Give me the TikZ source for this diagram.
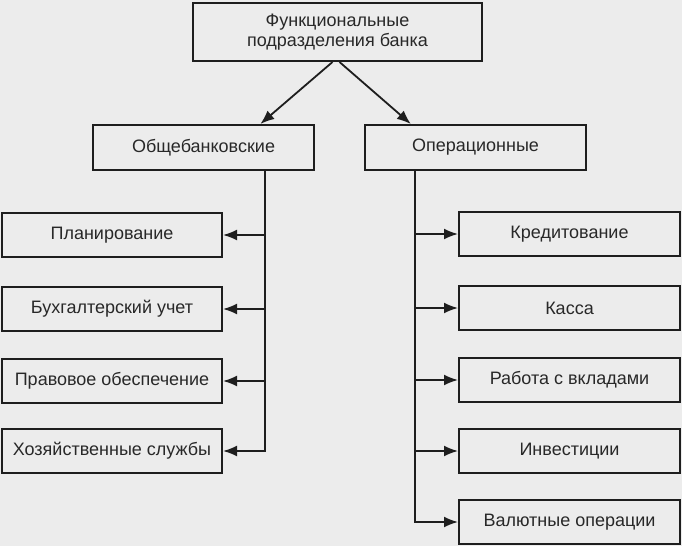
\documentclass[tikz,border=0pt]{standalone}
\usepackage{fontspec}
\setmainfont{Liberation Sans}
\usetikzlibrary{arrows.meta,calc}
\definecolor{bg}{RGB}{236,236,236}
\definecolor{ink}{RGB}{30,30,30}
\definecolor{txt}{RGB}{40,40,40}
\begin{document}
\begin{tikzpicture}[x=1pt,y=-1pt,
  box/.style={draw=ink,line width=2pt,fill=bg,inner sep=0pt,text=txt,
    font=\fontsize{18}{20}\selectfont,align=center},
  sbox/.style={box,minimum width=220pt,minimum height=44pt},
  conn/.style={draw=ink,line width=1.8pt},
  arr/.style={conn,-{Latex[length=14pt,width=11pt]}}]
\fill[bg] (0,0) rectangle (682,546);
\useasboundingbox (0,0) rectangle (682,546);
\node[box,minimum width=289pt,minimum height=58pt] (top) at (337.5,32) {Функциональные\\подразделения банка};
\node[box,minimum width=221pt,minimum height=45pt] (ob) at (203.5,147.5) {Общебанковские};
\node[box,minimum width=221pt,minimum height=45pt] (op) at (475.5,147.5) {Операционные};
\node[sbox] (plan) at (112,235) {Планирование};
\node[sbox] (buh) at (112,309) {Бухгалтерский учет};
\node[sbox] (prav) at (112,381) {Правовое обеспечение};
\node[sbox] (hoz) at (112,451) {Хозяйственные службы};
\node[sbox,minimum width=221pt] (kred) at (569.5,234) {Кредитование};
\node[sbox,minimum width=221pt] (kassa) at (569.5,308) {Касса};
\node[sbox,minimum width=221pt] (vkl) at (569.5,380) {Работа с вкладами};
\node[sbox,minimum width=221pt] (inv) at (569.5,451) {Инвестиции};
\node[sbox,minimum width=221pt] (val) at (569.5,522) {Валютные операции};
\coordinate (lx) at (265,0);
\coordinate (rx) at (415,0);
\draw[arr] ([xshift=-5pt]top.south) -- ($(ob.north west)!0.755!(ob.north east)$);
\draw[arr] ([xshift=2pt]top.south) -- ($(op.north west)!0.21!(op.north east)$);
\draw[arr] (ob.south -| lx) -- (lx |- hoz.east) -- (hoz.east);
\draw[arr] (lx |- plan.east) -- (plan.east);
\draw[arr] (lx |- buh.east) -- (buh.east);
\draw[arr] (lx |- prav.east) -- (prav.east);
\draw[arr] (op.south -| rx) -- (rx |- val.west) -- (val.west);
\draw[arr] (rx |- kred.west) -- (kred.west);
\draw[arr] (rx |- kassa.west) -- (kassa.west);
\draw[arr] (rx |- vkl.west) -- (vkl.west);
\draw[arr] (rx |- inv.west) -- (inv.west);
\end{tikzpicture}
\end{document}
